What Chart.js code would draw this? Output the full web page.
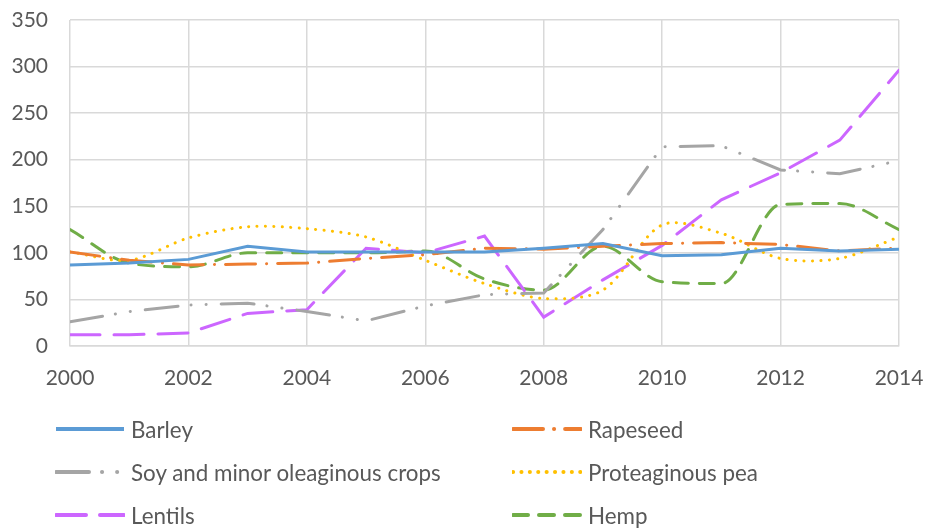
<!DOCTYPE html>
<html>
<head>
<meta charset="utf-8">
<script src="https://cdn.jsdelivr.net/npm/chart.js@4"></script>
<style>
  html, body { margin: 0; padding: 0; background: #fff; }
  #wrap { position: relative; width: 926px; height: 532px; }
  #chart { position: absolute; left: 0; top: 0; }
  #legend { position: absolute; left: 0; top: 0; width: 926px; height: 532px; pointer-events: none; }
  .item { position: absolute; display: flex; align-items: center; height: 30px;
          font-family: Lato, sans-serif; font-size: 22.4px; color: #595959; }
  .item svg { margin-right: 6px; }
</style>
</head>
<body>
<div id="wrap">
  <canvas id="chart" width="926" height="400"></canvas>
  <div id="legend"></div>
</div>
<script>
// chart data
const years = [2000, 2001, 2002, 2003, 2004, 2005, 2006, 2007, 2008, 2009, 2010, 2011, 2012, 2013, 2014];
const barley   = [87, 89, 93, 107, 101, 101, 101, 101, 105, 110, 97, 98, 105, 102, 104];
const rapeseed = [101, 92, 87, 88, 89, 94, 98, 105, 104, 107, 110, 111, 109, 102, 105];
const soy      = [26, 37, 44, 46, 37, 27, 43, 55, 57, 125, 214, 215, 189, 185, 199];
const pea      = [101, 92, 116, 128, 126, 117, 92, 67, 51, 60, 130, 121, 94, 94, 117];
const lentils  = [12, 12, 14, 35, 39, 105, 100, 118, 31, 71, 108, 157, 186, 221, 296];
const hemp     = [125, 89, 85, 100, 100, 100, 102, 72, 60, 107, 69, 67, 152, 153, 125];
const yTicks = [0, 50, 100, 150, 200, 250, 300, 350];

function pts(arr) {
    return arr.map(function (v, i) { return { x: years[i], y: v }; });
}

const series = [
    { label: 'Barley', data: barley, color: '#5b9bd5', dash: [], tension: 0, pos: [55, 414] },
    { label: 'Rapeseed', data: rapeseed, color: '#ed7d31', dash: [30, 11, 0.1, 11], tension: 0, pos: [512, 414] },
    { label: 'Soy and minor oleaginous crops', data: soy, color: '#a5a5a5', dash: [33, 13, 0.1, 15, 0.1, 15], tension: 0, pos: [55, 457] },
    { label: 'Proteaginous pea', data: pea, color: '#ffc000', dash: [0.1, 8.3], tension: 0.3, pos: [512, 457] },
    { label: 'Lentils', data: lentils, color: '#cc66ff', dash: [30, 14], tension: 0, pos: [55, 500] },
    { label: 'Hemp', data: hemp, color: '#70ad47', dash: [15, 11], mono: true, pos: [512, 500] }
];

const datasets = series.map(function (s) {
    return {
        label: s.label,
        data: pts(s.data),
        borderColor: s.color,
        backgroundColor: s.color,
        borderWidth: 3,
        borderDash: s.dash,
        borderCapStyle: s.dash.length ? 'round' : 'butt',
        pointRadius: 0,
        tension: s.tension || 0,
        cubicInterpolationMode: s.mono ? 'monotone' : 'default',
        fill: false
    };
});

const ctx = document.getElementById('chart').getContext('2d');
const chart = new Chart(ctx, {
    type: 'line',
    data: { datasets: datasets },
    options: {
        responsive: false,
        animation: false,
        layout: { padding: { left: 0, top: 20, right: 27, bottom: 0 } },
        plugins: { legend: { display: false }, tooltip: { enabled: false } },
        scales: {
            x: {
                type: 'linear',
                min: 2000, max: 2014,
                afterFit: function (s) {
                    s.height = 54;
                    s.paddingLeft = 0; s.paddingRight = 0;
                },
                grid: { color: '#d9d9d9', lineWidth: 1.5, drawTicks: false },
                border: { color: '#d9d9d9', width: 1.5 },
                ticks: {
                    stepSize: 2, padding: 20,
                    color: '#595959',
                    font: { family: 'Lato', size: 21 },
                    callback: function (v) { return String(v); }
                }
            },
            y: {
                min: 0, max: 350,
                afterFit: function (s) {
                    s.width = 70;
                    s.paddingTop = 0; s.paddingBottom = 0;
                },
                afterBuildTicks: function (s) { s.ticks = yTicks.map(function (v) { return { value: v }; }); },
                grid: { color: '#d9d9d9', lineWidth: 1.5, drawTicks: false },
                border: { display: false },
                ticks: {
                    padding: 22,
                    color: '#595959',
                    font: { family: 'Lato', size: 21 }
                }
            }
        }
    }
});

// legend in two columns, like the original
const legend = document.getElementById('legend');
series.forEach(function (s) {
    const item = document.createElement('div');
    item.className = 'item';
    item.style.left = s.pos[0] + 'px';
    item.style.top = s.pos[1] + 'px';
    const dash = s.dash.length ? s.dash.join(' ') : 'none';
    const cap = s.dash.length ? 'round' : 'butt';
    item.innerHTML = '<svg width="70" height="10"><line x1="1" y1="5" x2="69" y2="5" stroke="' + s.color +
        '" stroke-width="4" stroke-dasharray="' + dash + '" stroke-linecap="' + cap + '"/></svg>' +
        '<span>' + s.label + '</span>';
    legend.appendChild(item);
});
</script>
</body>
</html>
